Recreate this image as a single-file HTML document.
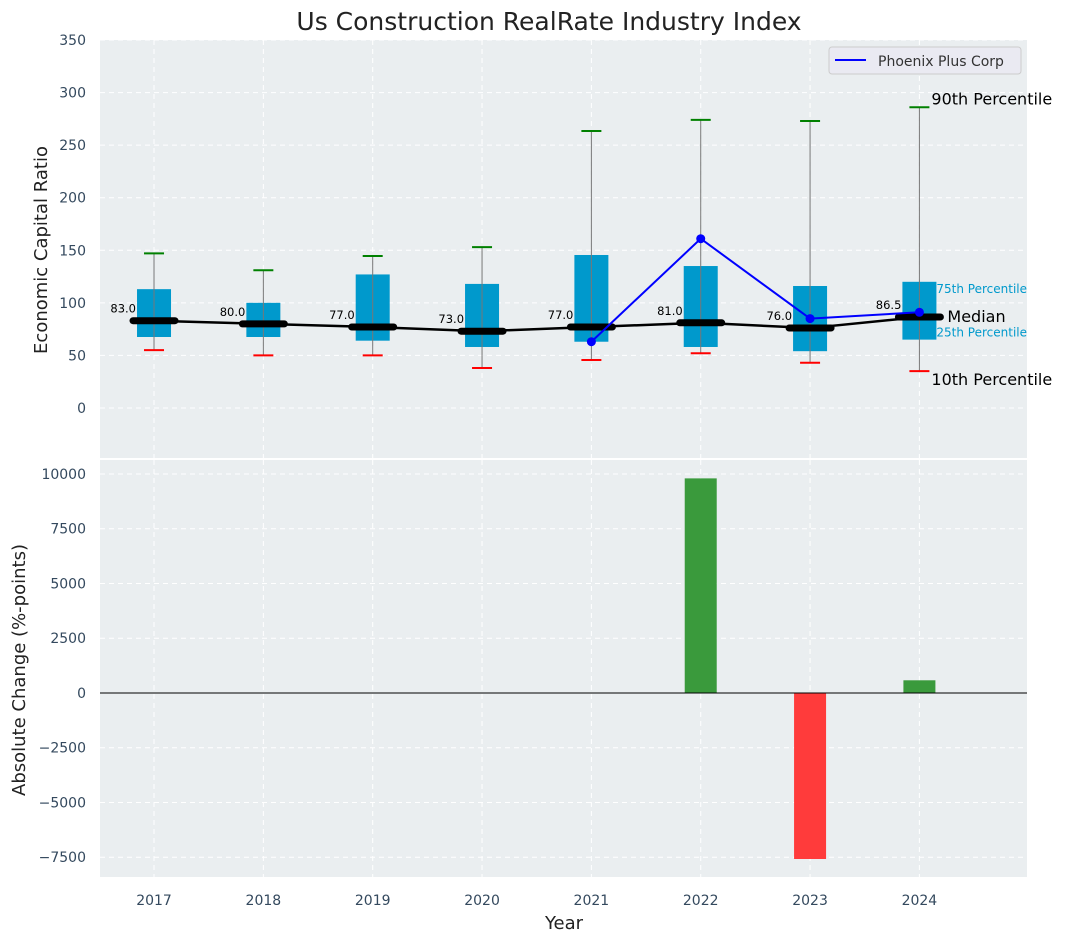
<!DOCTYPE html>
<html><head><meta charset="utf-8"><style>
body{margin:0;background:#fff;font-family:"Liberation Sans","DejaVu Sans",sans-serif}
svg text{font-family:"DejaVu Sans","Liberation Sans",sans-serif}
</style></head><body>
<svg id="c" width="1067" height="942" viewBox="0 0 1067 942" xmlns="http://www.w3.org/2000/svg"></svg>
<script>
const years=['2017','2018','2019','2020','2021','2022','2023','2024'];
const p10=[55,50,50,38,45.6,52,43,35];
const q1=[67.5,67.5,64,58,63,58,54,65];
const med=[83,80,77,73,77,81,76,86.5];
const q3=[113,100,127,118,145.5,135,116,120];
const p90=[147,131,144.6,153,263.5,274,273,286];
const compYears=[4,5,6,7];
const compVals=[63,161,85,91];
const changes=[0,0,0,0,0,9800,-7580,580];
const topTicks=[0,50,100,150,200,250,300,350];
const botTicks=[-7500,-5000,-2500,0,2500,5000,7500,10000];

const NS='http://www.w3.org/2000/svg';
const svg=document.getElementById('c');
function el(t,a,txt){const e=document.createElementNS(NS,t);for(const k in a)e.setAttribute(k,a[k]);if(txt!=null)e.textContent=txt;svg.appendChild(e);return e;}
const X0=100,X1=1027;
const xs=i=>X0+(i+0.494)/(8.478)*(X1-X0);
const T0=40,T1=458,tmin=-47.6,tmax=350;
const ty=v=>T1-(v-tmin)/(tmax-tmin)*(T1-T0);
const B0=460,B1=877,bmin=-8402,bmax=10639;
const by=v=>B1-(v-bmin)/(bmax-bmin)*(B1-B0);

let e;
e=el('rect',{x:X0,y:T0,width:X1-X0,height:T1-T0,fill:'#eaeef0'});


e=el('rect',{x:X0,y:B0,width:X1-X0,height:B1-B0,fill:'#eaeef0'});



years.forEach((y,i)=>{
 e=el('line',{x1:xs(i),x2:xs(i),y1:T0,y2:T1,stroke:'#fff','stroke-dasharray':'5,4','stroke-width':1});
 
 
 e=el('line',{x1:xs(i),x2:xs(i),y1:B0,y2:B1,stroke:'#fff','stroke-dasharray':'5,4','stroke-width':1});
 
 
 e=el('text',{x:xs(i),y:905,'text-anchor':'middle','font-size':14,fill:'#34495e'},y);
 
 
});
topTicks.forEach(v=>{
 e=el('line',{x1:X0,x2:X1,y1:ty(v),y2:ty(v),stroke:'#fff','stroke-dasharray':'5,4'});
 
 
 e=el('text',{x:86,y:ty(v)+5,'text-anchor':'end','font-size':14,fill:'#34495e'},v);
 
 
});
botTicks.forEach(v=>{
 e=el('line',{x1:X0,x2:X1,y1:by(v),y2:by(v),stroke:'#fff','stroke-dasharray':'5,4'});
 
 
 e=el('text',{x:86,y:by(v)+5,'text-anchor':'end','font-size':14,fill:'#34495e'},v<0?'\u2212'+(-v):v);
 
 
});

years.forEach((y,i)=>{
 const x=xs(i);
 e=el('rect',{x:x-17,y:ty(q3[i]),width:34,height:ty(q1[i])-ty(q3[i]),fill:'#0099cc'});
 
 
 e=el('line',{x1:x,x2:x,y1:ty(p90[i]),y2:ty(p10[i]),stroke:'#777','stroke-width':1});
 
 
 e=el('line',{x1:x-10,x2:x+10,y1:ty(p90[i]),y2:ty(p90[i]),stroke:'green','stroke-width':2});
 
 
 e=el('line',{x1:x-10,x2:x+10,y1:ty(p10[i]),y2:ty(p10[i]),stroke:'red','stroke-width':2});
 
 
});
e=el('polyline',{points:years.map((y,i)=>xs(i)+','+ty(med[i])).join(' '),fill:'none',stroke:'#000','stroke-width':2.5});


years.forEach((y,i)=>{
 const x=xs(i);
 e=el('line',{x1:x-21,x2:x+21,y1:ty(med[i]),y2:ty(med[i]),stroke:'#000','stroke-width':7,'stroke-linecap':'round'});
 
 
 e=el('text',{x:x-18,y:ty(med[i])-8,'text-anchor':'end','font-size':11.5,fill:'#000'},med[i].toFixed(1));
 
 
});
e=el('polyline',{points:compYears.map((k,j)=>xs(k)+','+ty(compVals[j])).join(' '),fill:'none',stroke:'#0000ff','stroke-width':2});


compYears.forEach((k,j)=>{
 e=el('circle',{cx:xs(k),cy:ty(compVals[j]),r:4.5,fill:'#0000ff'});
 
 
});
const L=7,lx=xs(L)+12;
[['90th Percentile',ty(p90[L])-3,16,'#000'],['75th Percentile',ty(q3[L])+11,12,'#0099cc'],['Median',ty(med[L])+5,16,'#000'],['25th Percentile',ty(q1[L])-3,12,'#0099cc'],['10th Percentile',ty(p10[L])+14,16,'#000']].forEach(a=>{
 e=el('text',{x:a[0]==='Median'?lx+16:(a[2]===12?lx+5:lx),y:a[1],'font-size':a[2],fill:a[3]},a[0]);
 
 
});
e=el('rect',{x:829,y:47,width:192,height:27,rx:3,fill:'#eaeaf2',stroke:'#ccc'});


e=el('line',{x1:835,x2:866,y1:60,y2:60,stroke:'#0000ff','stroke-width':2});


e=el('text',{x:878,y:66,'font-size':14,fill:'#333'},'Phoenix Plus Corp');


years.forEach((y,i)=>{
 if(!changes[i])return;
 const v=changes[i];
 e=el('rect',{x:xs(i)-16,y:Math.min(by(v),by(0)),width:32,height:Math.abs(by(v)-by(0)),fill:v>0?'#3a9a3c':'#ff3b3b'});
 
 
});
e=el('line',{x1:X0,x2:X1,y1:by(0),y2:by(0),stroke:'#000','stroke-width':1});


e=el('text',{x:549,y:30,'text-anchor':'middle','font-size':25,fill:'#222'},'Us Construction RealRate Industry Index');


e=el('text',{x:564,y:929,'text-anchor':'middle','font-size':18,fill:'#222'},'Year');


e=el('text',{x:47,y:250,'text-anchor':'middle','font-size':18,fill:'#222',transform:'rotate(-90 47 250)'},'Economic Capital Ratio');


e=el('text',{x:25,y:670,'text-anchor':'middle','font-size':18,fill:'#222',transform:'rotate(-90 25 670)'},'Absolute Change (%-points)');


</script>
</body></html>
